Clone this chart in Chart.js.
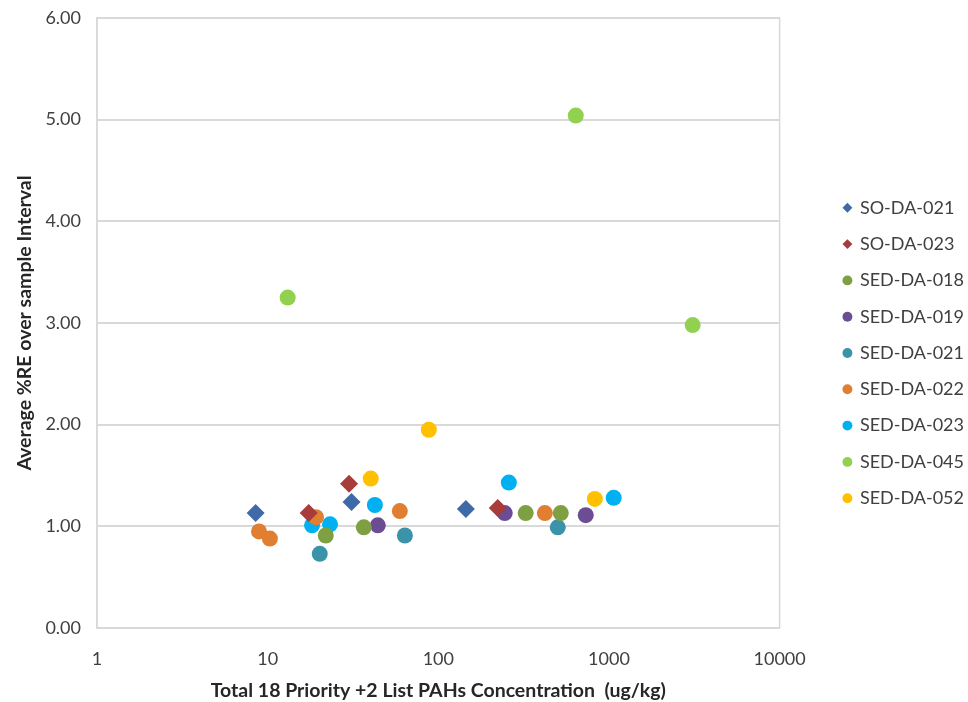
<!DOCTYPE html>
<html>
<head>
<meta charset="utf-8">
<script src="https://cdn.jsdelivr.net/npm/chart.js@4"></script>
<style>
  html, body { margin: 0; padding: 0; background: #fff; }
  .chart-wrapper { width: 968px; height: 702px; }
</style>
</head>
<body>
<div class="chart-wrapper"><canvas id="chart" width="968" height="702"></canvas></div>
<script>
const seriesNames = ['SO-DA-021', 'SO-DA-023', 'SED-DA-018', 'SED-DA-019', 'SED-DA-021',
  'SED-DA-022', 'SED-DA-023', 'SED-DA-045', 'SED-DA-052'];

// concentration (ug/kg) and average %RE for each sample
const soDa021X = [8.5, 31, 145];
const soDa021Y = [1.13, 1.24, 1.17];
const soDa023X = [17.4, 30, 223];
const soDa023Y = [1.13, 1.42, 1.18];
const sedDa018X = [21.9, 36.6, 325, 522];
const sedDa018Y = [0.91, 0.99, 1.13, 1.13];
const sedDa019X = [44.2, 245, 731];
const sedDa019Y = [1.01, 1.13, 1.11];
const sedDa021X = [20.2, 63.7, 501];
const sedDa021Y = [0.73, 0.91, 0.99];
const sedDa022X = [8.9, 10.3, 19.2, 59.5, 421];
const sedDa022Y = [0.95, 0.88, 1.09, 1.15, 1.13];
const sedDa023X = [18.2, 23.2, 42.5, 259, 1066];
const sedDa023Y = [1.01, 1.02, 1.21, 1.43, 1.28];
const sedDa045X = [13.1, 639, 3093];
const sedDa045Y = [3.25, 5.04, 2.98];
const sedDa052X = [40.2, 88, 826];
const sedDa052Y = [1.47, 1.95, 1.27];

const xTicks = [1, 10, 100, 1000, 10000];
const yTicks = [0, 1, 2, 3, 4, 5, 6];

const xs = [soDa021X, soDa023X, sedDa018X, sedDa019X, sedDa021X, sedDa022X, sedDa023X, sedDa045X, sedDa052X];
const ys = [soDa021Y, soDa023Y, sedDa018Y, sedDa019Y, sedDa021Y, sedDa022Y, sedDa023Y, sedDa045Y, sedDa052Y];
const colors = ['#3e6ba8', '#a73c3a', '#7fa042', '#6c4d94', '#3a93a9', '#e07e32', '#00b0f0', '#92d050', '#ffc000'];

const datasets = seriesNames.map((name, i) => {
  const diamond = name.startsWith('SO-');
  return {
    label: name,
    data: xs[i].map((x, j) => ({ x: x, y: ys[i][j] })),
    pointStyle: diamond ? 'rectRot' : 'circle',
    pointRadius: diamond ? 9 : 8,
    backgroundColor: colors[i],
    borderColor: colors[i],
    borderWidth: 0
  };
});

// thin grey frame round the plot area
const plotFrame = {
  id: 'plotFrame',
  afterDraw(chart) {
    const { ctx, chartArea: a } = chart;
    ctx.save();
    ctx.strokeStyle = '#d9d9d9';
    ctx.lineWidth = 1.5;
    ctx.strokeRect(a.left, a.top, a.right - a.left, a.bottom - a.top);
    ctx.restore();
  }
};

// nudge the legend box a bit away from the plot
const legendShift = {
  id: 'legendShift',
  afterLayout(chart) {
    const lg = chart.legend;
    if (!lg) return;
    lg.left += 46;
    lg.right += 46;
    lg.top -= 7;
    lg.bottom -= 7;
  }
};

const ctx = document.getElementById('chart').getContext('2d');
new Chart(ctx, {
  type: 'scatter',
  data: { datasets: datasets },
  plugins: [plotFrame, legendShift],
  options: {
    responsive: false,
    animation: false,
    layout: { padding: { top: 18, right: 40, bottom: 0, left: 0 } },
    scales: {
      x: {
        type: 'logarithmic',
        min: 1,
        max: 10000,
        afterBuildTicks: scale => { scale.ticks = xTicks.map(v => ({ value: v })); },
        afterFit: scale => { scale.height = 74; },
        ticks: {
          color: '#404040',
          font: { family: 'Lato', size: 18 },
          padding: 12,
          maxRotation: 0,
          callback: v => String(v)
        },
        grid: { display: false },
        border: { color: '#d9d9d9', width: 1.5 },
        title: {
          display: true,
          text: 'Total 18 Priority +2 List PAHs Concentration  (ug/kg)',
          color: '#262626',
          font: { family: 'Lato', size: 19.5, weight: 'bold' },
          padding: { top: 4, bottom: 0 }
        }
      },
      y: {
        min: 0,
        max: 6,
        afterBuildTicks: scale => { scale.ticks = yTicks.map(v => ({ value: v })); },
        afterFit: scale => {
          scale.width = 97;
          scale.paddingTop = 0;
        },
        ticks: {
          color: '#404040',
          font: { family: 'Lato', size: 18 },
          padding: 16,
          callback: v => Number(v).toFixed(2)
        },
        grid: { color: '#d9d9d9', lineWidth: 2, drawTicks: false },
        border: { color: '#d9d9d9', width: 1.5 },
        title: {
          display: true,
          text: 'Average %RE over sample Interval',
          color: '#262626',
          font: { family: 'Lato', size: 19.5, weight: 'bold' },
          padding: { top: 13, bottom: 6 }
        }
      }
    },
    plugins: {
      legend: {
        position: 'right',
        labels: {
          usePointStyle: true,
          boxWidth: 7,
          boxHeight: 7,
          padding: 18.3,
          color: '#404040',
          font: { family: 'Lato', size: 18 }
        }
      },
      tooltip: { enabled: false }
    }
  }
});
</script>
</body>
</html>
